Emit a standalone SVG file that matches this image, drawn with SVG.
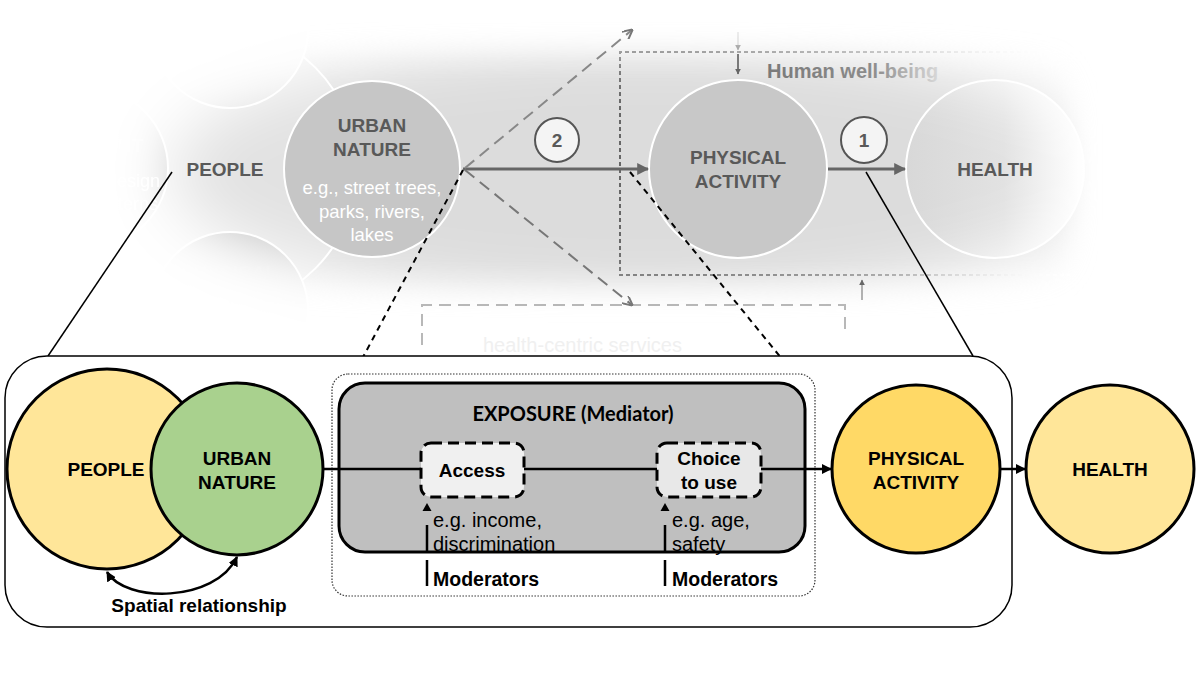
<svg xmlns="http://www.w3.org/2000/svg" width="1200" height="675" viewBox="0 0 1200 675">
<defs>
<style>
.sans{font-family:"Liberation Sans",Arial,sans-serif}
.b{font-weight:bold}
.tt{fill:#595959;font-family:"Liberation Sans",Arial,sans-serif;font-weight:bold;font-size:19px;text-anchor:middle}
.bt{fill:#000;font-family:"Liberation Sans",Arial,sans-serif;font-weight:bold;font-size:19px;text-anchor:middle}
.node{stroke:#000;stroke-width:3}
.conn{stroke:#000;stroke-width:2.5;fill:none}
.tconn{stroke:#666;stroke-width:3;fill:none}
.zoomline{stroke:#000;stroke-width:1.5;fill:none}
</style>
<filter id="blur30" x="-30%" y="-60%" width="160%" height="220%"><feGaussianBlur stdDeviation="32"/></filter>
<filter id="blur15" x="-30%" y="-60%" width="160%" height="220%"><feGaussianBlur stdDeviation="15"/></filter>
<mask id="fade" maskUnits="userSpaceOnUse" x="0" y="0" width="1200" height="360">
<rect x="0" y="0" width="1200" height="360" fill="#000"/>
<ellipse cx="640" cy="172" rx="470" ry="132" fill="#fff" filter="url(#blur30)"/>
</mask>
<linearGradient id="gHealth" x1="0" y1="0" x2="1" y2="0"><stop offset="0" stop-color="#d8d8d8"/><stop offset="0.55" stop-color="#e2e2e2"/><stop offset="1" stop-color="#ffffff"/></linearGradient>
<linearGradient id="gLeft" x1="0" y1="0" x2="1" y2="0"><stop offset="0" stop-color="#ffffff"/><stop offset="0.55" stop-color="#eeeeee"/><stop offset="1" stop-color="#c0c0c0"/></linearGradient>
<linearGradient id="gBot" x1="0" y1="0" x2="0" y2="1"><stop offset="0" stop-color="#c4c4c4"/><stop offset="0.5" stop-color="#ececec"/><stop offset="1" stop-color="#ffffff"/></linearGradient>
<linearGradient id="gTop" x1="0" y1="0" x2="0" y2="1"><stop offset="0" stop-color="#ffffff"/><stop offset="0.7" stop-color="#f4f4f4"/><stop offset="1" stop-color="#e0e0e0"/></linearGradient>
<linearGradient id="gFadeR" gradientUnits="userSpaceOnUse" x1="767" y1="0" x2="960" y2="0"><stop offset="0" stop-color="#7a7a7a"/><stop offset="0.55" stop-color="#8c8c8c"/><stop offset="1" stop-color="#f0f0f0"/></linearGradient>
<linearGradient id="gFadeR2" x1="0" y1="0" x2="1" y2="0"><stop offset="0" stop-color="#eee"/><stop offset="0.5" stop-color="#ddd"/><stop offset="1" stop-color="#fff"/></linearGradient>
<linearGradient id="gRect" gradientUnits="userSpaceOnUse" x1="620" y1="0" x2="1070" y2="0"><stop offset="0" stop-color="#666"/><stop offset="0.6" stop-color="#777"/><stop offset="1" stop-color="#fff"/></linearGradient>
<marker id="ah" viewBox="0 0 10 10" refX="9" refY="5" markerWidth="4" markerHeight="4" orient="auto-start-reverse" markerUnits="strokeWidth"><path d="M0,0 L10,5 L0,10 z" fill="#000"/></marker>
<marker id="ahg" viewBox="0 0 10 10" refX="9" refY="5" markerWidth="4" markerHeight="4" orient="auto" markerUnits="strokeWidth"><path d="M0,0 L10,5 L0,10 z" fill="#666"/></marker>
<marker id="ahd" viewBox="0 0 10 10" refX="9" refY="5" markerWidth="5" markerHeight="5" orient="auto" markerUnits="strokeWidth"><path d="M0,0 L10,5 L0,10" fill="none" stroke="#777" stroke-width="2"/></marker>
</defs>
<rect width="1200" height="675" fill="#fff"/>

<!-- faded background picture -->
<g id="background" mask="url(#fade)">
<rect x="150" y="50" width="920" height="240" fill="#dcdcdc" filter="url(#blur15)"/>
<circle cx="215" cy="168" r="142" fill="#e2e2e2" stroke="#fff" stroke-width="2"/>
<circle cx="230" cy="30" r="78" fill="url(#gTop)" stroke="#fff" stroke-width="2"/>
<circle cx="88" cy="168" r="80" fill="url(#gLeft)" stroke="#fff" stroke-width="2"/>
<circle cx="230" cy="310" r="78" fill="url(#gBot)" stroke="#fff" stroke-width="2"/>
<text x="143" y="152" text-anchor="end" class="sans b" font-size="19" fill="#e6e6e6">ENT</text>
<text x="165" y="187" text-anchor="end" class="sans" font-size="18" fill="#fff">design,</text>
<text x="158" y="210" text-anchor="end" class="sans" font-size="18" fill="#fff">patterns</text>
<text x="229" y="279" text-anchor="middle" class="sans b" font-size="19" fill="#dadada">PHYSICAL</text>
<text x="305" y="304" text-anchor="end" class="sans b" font-size="19" fill="#e4e4e4">MENTAL</text>
<circle cx="995" cy="169" r="89" fill="url(#gHealth)" stroke="#fff" stroke-width="2"/>
<path d="M1070,52 H620 V275 H1070" fill="none" stroke="url(#gRect)" stroke-width="2" stroke-dasharray="4,3"/>
<path d="M738,32 V50" stroke="#bbb" stroke-width="1.5" marker-end="url(#ahg)"/>
</g>

<g id="faint-details">
<path d="M415,28 H820" fill="none" stroke="url(#gFadeR2)" stroke-width="2" stroke-dasharray="12,7"/>
<path d="M422,345 V305 H845 V335" fill="none" stroke="#a0a0a0" stroke-opacity="0.75" stroke-width="2" stroke-dasharray="12,7"/>
<text x="483" y="352" class="sans" font-size="20" fill="#f0f0f0">health-centric services</text>
<path d="M862,300 V280" stroke="#999" stroke-width="1.5" marker-end="url(#ahg)"/>
<text x="767" y="78" class="sans b" font-size="20" fill="url(#gFadeR)">Human well-being</text>
</g>

<g id="top-people"><text x="225" y="176" class="tt">PEOPLE</text></g>
<g id="top-urban-nature">
<circle cx="372" cy="169" r="88" fill="#c6c6c6" stroke="#fff" stroke-width="2"/>
<text x="372" y="132" class="tt">URBAN</text>
<text x="372" y="156" class="tt">NATURE</text>
<text x="372" y="194" text-anchor="middle" class="sans" font-size="18.5" fill="#fff">e.g., street trees,</text>
<text x="372" y="218" text-anchor="middle" class="sans" font-size="18.5" fill="#fff">parks, rivers,</text>
<text x="372" y="241" text-anchor="middle" class="sans" font-size="18.5" fill="#fff">lakes</text>
</g>
<g id="top-physical-activity">
<circle cx="738" cy="169" r="89" fill="#c8c8c8" stroke="#fff" stroke-width="2"/>
<text x="738" y="164" class="tt">PHYSICAL</text>
<text x="738" y="188" class="tt">ACTIVITY</text>
</g>
<g id="top-health"><text x="995" y="176" class="tt">HEALTH</text></g>
<g id="label-2"><circle cx="557" cy="140" r="22" fill="#f4f4f4" stroke="#555" stroke-width="2"/><text x="557" y="147" class="tt" font-size="18">2</text></g>
<g id="label-1"><circle cx="864" cy="140" r="23" fill="#f4f4f4" stroke="#555" stroke-width="2"/><text x="864" y="147" class="tt" font-size="18">1</text></g>

<g id="top-connectors">
<path d="M463,169 H648" class="tconn" marker-end="url(#ahg)"/>
<path d="M828,169 H905" class="tconn" marker-end="url(#ahg)"/>
<path d="M465,168 L632,30" fill="none" stroke="#888" stroke-width="2" stroke-dasharray="12,7" marker-end="url(#ahd)"/>
<path d="M465,170 L632,305" fill="none" stroke="#777" stroke-width="2" stroke-dasharray="12,7" marker-end="url(#ahd)"/>
<path d="M738,54 V74" stroke="#555" stroke-width="1.5" marker-end="url(#ahg)"/>
</g>

<g id="zoom-lines">
<path d="M172,172 L48,356" class="zoomline"/>
<path d="M866,172 L973,356" class="zoomline"/>
<path d="M463,170 L354,374" fill="none" stroke="#000" stroke-width="2" stroke-dasharray="6,5"/>
<path d="M630,172 L795,375" fill="none" stroke="#000" stroke-width="2" stroke-dasharray="6,5"/>
</g>

<!-- bottom detail -->
<g id="detail-frame"><rect x="5" y="356" width="1007" height="271" rx="42" fill="#fff" stroke="#000" stroke-width="1.5"/></g>
<g id="people"><circle cx="107" cy="469" r="100" fill="#ffe699" class="node"/><text x="106" y="476" class="bt">PEOPLE</text></g>
<g id="urban-nature"><circle cx="237" cy="469" r="86" fill="#a9d18e" class="node"/>
<text x="237" y="465" class="bt">URBAN</text><text x="237" y="489" class="bt">NATURE</text></g>
<g id="exposure-frame"><rect x="332" y="374" width="483" height="222" rx="16" fill="none" stroke="#333" stroke-width="1.2" stroke-dasharray="1.5,1.5"/></g>
<g id="exposure"><rect x="339" y="383" width="466" height="169" rx="26" fill="#bfbfbf" class="node"/>
<text x="573" y="421" text-anchor="middle" font-family="Lato,'Open Sans',sans-serif" font-weight="bold" font-size="20" fill="#000">EXPOSURE (Mediator)</text></g>

<g id="connectors">
<path d="M322,469 H421" class="conn"/>
<path d="M524,469 H657" class="conn"/>
<path d="M761,469 H831" class="conn" marker-end="url(#ah)"/>
<path d="M1001,469 H1025" class="conn" marker-end="url(#ah)"/>
<path d="M107,572 C125,603 215,603 237,557" class="conn" marker-start="url(#ah)" marker-end="url(#ah)"/>
<path d="M427,552 V525 M427,560 V586" class="conn"/>
<polygon points="427,503 422.5,511 431.5,511" fill="#000"/>
<path d="M665,552 V525 M665,560 V586" class="conn"/>
<polygon points="665,503 660.5,511 669.5,511" fill="#000"/>
</g>

<g id="access"><rect x="421" y="443" width="103" height="54" rx="10" fill="#f0f0f0" stroke="#000" stroke-width="3" stroke-dasharray="11,6"/>
<text x="472" y="477" class="bt" font-size="18">Access</text></g>
<g id="choice"><rect x="657" y="443" width="104" height="54" rx="10" fill="#e8e8e8" stroke="#000" stroke-width="3" stroke-dasharray="11,6"/>
<text x="709" y="465" class="bt" font-size="18">Choice</text><text x="709" y="489" class="bt" font-size="18">to use</text></g>

<g id="moderator-1">
<text x="433" y="527" class="sans" font-size="20">e.g. income,</text>
<text x="433" y="551" class="sans" font-size="20">discrimination</text>
<text x="433" y="586" class="sans b" font-size="19.5">Moderators</text>
</g>
<g id="moderator-2">
<text x="672" y="527" class="sans" font-size="20">e.g. age,</text>
<text x="672" y="551" class="sans" font-size="20">safety</text>
<text x="672" y="586" class="sans b" font-size="19.5">Moderators</text>
</g>
<g id="spatial-label"><text x="199" y="612" class="bt" font-size="18.5">Spatial relationship</text></g>
<g id="physical-activity"><circle cx="916" cy="469" r="84" fill="#ffd966" class="node"/>
<text x="916" y="465" class="bt">PHYSICAL</text><text x="916" y="489" class="bt">ACTIVITY</text></g>
<g id="health"><circle cx="1110" cy="469" r="84" fill="#ffe699" class="node"/><text x="1110" y="476" class="bt">HEALTH</text></g>
</svg>
